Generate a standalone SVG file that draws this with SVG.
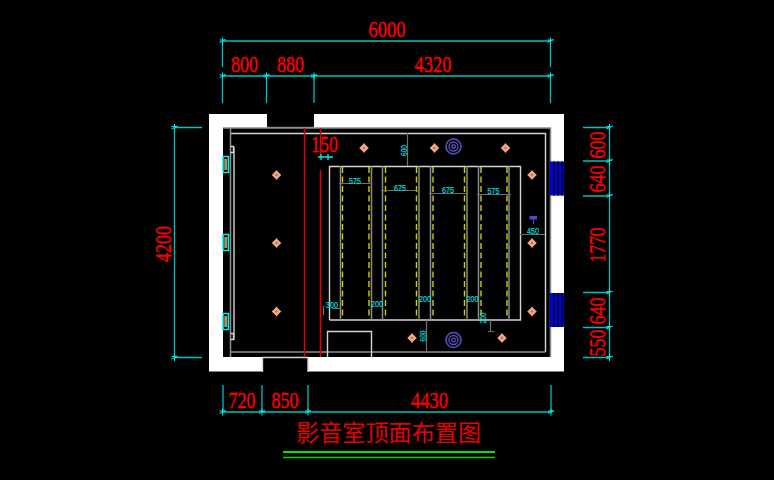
<svg xmlns="http://www.w3.org/2000/svg" width="774" height="480" viewBox="0 0 774 480">
<style>
.dim{stroke:#00c0c0;stroke-width:1.300;fill:none}
.tick{stroke:#00e8e8;stroke-width:1.300;fill:none}
.w{stroke:#d4d4d4;stroke-width:1.400;fill:none}
.g{stroke:#8c8c8c;stroke-width:1.500;fill:none}
.d{stroke:#707070;stroke-width:1.200;fill:none}
.y{stroke:#d0d000;stroke-width:1.400;fill:none;stroke-dasharray:6 3.500}
.r{stroke:#e00000;stroke-width:1.500;fill:none}
.bl{fill:#0000e0}
.bk{fill:#000038}
.t{font-family:"Liberation Serif",serif;font-size:24px;fill:#ff0000;stroke:#ff0000;stroke-width:.35;text-anchor:middle}
.s{font-family:"Liberation Sans",sans-serif;font-size:9.500px;fill:#00e0e0;stroke:#00e0e0;stroke-width:.15;text-anchor:middle}
.cn{font-family:"Liberation Serif","Noto Sans CJK SC",serif;font-size:23px;fill:#e80000;text-anchor:middle}
</style>
<defs>
<g id="lamp"><path d="M0-5 1.800-2.800 4.800 0 1.800 2.800 0 5-1.800 2.800-4.800 0-1.800-2.800Z" fill="#f4a888"/><circle r="3" fill="#f4a888"/><circle r="1.200" fill="#c07050"/></g>
<g id="spk" fill="none" stroke="#5850c0"><circle r="7.500" stroke-width="1.600"/><circle r="4.500" stroke-width="1.300"/><circle r="1.800" stroke-width="1.300"/></g>
<g id="sconce"><rect x="-2.500" y="-8" width="5.500" height="16" fill="none" stroke="#00f0f0" stroke-width="1.500"/><rect x="-1.200" y="-5.500" width="3" height="11" fill="#a89468"/></g>
<path id="tk" d="M-3 1.500 3-1.500M0-3.500V3.500M-3-1H3" stroke="#00e8e8" fill="none"/>
<g id="win"><rect class="bl" width="14" height="34"/><rect class="bk" x="3" width="2" height="34"/><rect class="bk" x="7" width="2" height="34"/><rect class="bk" x="11" width="2" height="34"/></g>
</defs>
<rect width="774" height="480" fill="#000"/>
<g id="walls">
<rect x="209" y="114" width="355" height="257.500" fill="#fff"/>
<rect x="223" y="128" width="327.500" height="229" fill="#000"/>
<rect x="267" y="114" width="47" height="14" fill="#000"/>
<rect x="262" y="357" width="46" height="15" fill="#000"/>
<path class="g" d="M223 128H550.500V357M267 127.500H314"/>
<path class="w" d="M262.500 372V357.500H308V372"/>
</g>
<g id="windows">
<use id="window-1" href="#win" x="550" y="161.500"/>
<use id="window-2" href="#win" x="550" y="293"/>
</g>
<g id="ceiling">
<path class="w" d="M230.500 133.500H545.500V352"/>
<path class="g" d="M230.500 128V357M230 352H545.500"/>
<path class="w" d="M234 147V340M230.500 146.500H233.500V152.500H230.500M230.500 333.500H233.500V339.500H230.500"/>
<path class="w" d="M329.500 320V166.500H520.500V320H329.500"/>
<path class="w" d="M327.500 357V331.500H371.500V357"/>
<path class="g" d="M340.500 166V320M371.500 166V320M382.500 166V320M419 166V320M430.500 166V320M467 166V320M478.500 166V320M509 166V320"/>
<path class="y" d="M342.500 167V320M369 167V320M385.500 167V320M416.500 167V320M433 167V320M464.500 167V320M481 167V320M507 167V320"/>
<path class="r" d="M304.500 128V357M320.500 128V157M320.500 170V357"/>
</g>
<g id="lamps">
<use href="#lamp" x="276.500" y="175"/><use href="#lamp" x="276.500" y="243"/><use href="#lamp" x="276.500" y="311.500"/>
<use href="#lamp" x="364" y="148"/><use href="#lamp" x="434.500" y="148"/><use href="#lamp" x="505.500" y="148"/>
<use href="#lamp" x="532" y="175"/><use href="#lamp" x="532" y="243"/><use href="#lamp" x="532" y="311.500"/>
<use href="#lamp" x="412" y="338"/><use href="#lamp" x="502" y="338"/>
</g>
<g id="speakers"><use href="#spk" x="453.500" y="146.500"/><use href="#spk" x="453.500" y="340"/></g>
<g id="sconces"><use href="#sconce" x="225.500" y="164.500"/><use href="#sconce" x="225.500" y="242.500"/><use href="#sconce" x="225.500" y="321.500"/></g>
<g id="projector"><path d="M529.500 216H537V219.500H534V224H533V219.500H529.500Z" fill="#5048d8"/></g>
<g id="inner-dims">
<path class="d" d="M339 183.500H372M381 190.500H420M429 193.500H468M477 194.500H511M520 234.500H545M407.500 133V166M426.500 320V352M490.500 320V331M488 331.500H494M332 308.500H340M323.500 306V315"/>
<text class="s" x="355" y="183.500" textLength="12" lengthAdjust="spacingAndGlyphs">575</text>
<text class="s" x="400" y="190.500" textLength="12" lengthAdjust="spacingAndGlyphs">675</text>
<text class="s" x="448" y="193" textLength="12" lengthAdjust="spacingAndGlyphs">675</text>
<text class="s" x="493.500" y="194" textLength="12" lengthAdjust="spacingAndGlyphs">575</text>
<text class="s" x="533" y="234" textLength="12" lengthAdjust="spacingAndGlyphs">450</text>
<text class="s" transform="translate(406.500 150.500) rotate(-90)" textLength="11" lengthAdjust="spacingAndGlyphs">600</text>
<text class="s" transform="translate(425.500 336) rotate(-90)" textLength="11" lengthAdjust="spacingAndGlyphs">600</text>
<text class="s" transform="translate(485.500 318) rotate(-90)" textLength="11" lengthAdjust="spacingAndGlyphs">200</text>
<text class="s" x="332" y="308" textLength="12" lengthAdjust="spacingAndGlyphs">300</text>
<text class="s" x="377" y="306.500" textLength="12" lengthAdjust="spacingAndGlyphs">200</text>
<text class="s" x="425" y="301.500" textLength="12" lengthAdjust="spacingAndGlyphs">200</text>
<text class="s" x="472.500" y="301.500" textLength="12" lengthAdjust="spacingAndGlyphs">200</text>
</g>
<g id="dim-connectors">
<path class="dim" d="M222.500 41H551M222.500 41V67M550.500 41V67M222.500 76H551M222.500 76V103M266.500 76V103M314 76V103M550.500 76V103"/>
<path class="dim" d="M222 412H552M223 385V412M262 385V412M308 385V412M551 385V412"/>
<path class="dim" d="M174.500 127.500V357.500M174.500 127.500H202M174.500 357.500H202"/>
<path class="dim" d="M609.500 127.500V357.500M583 127.500H610M583 161H610M583 196H610M583 292.500H610M583 327.500H610M583 357.500H610"/>
<path class="tick" d="M318 157H333M321 154V160M328 154V160"/>
<use href="#tk" x="222.500" y="41"/><use href="#tk" x="550.500" y="41"/>
<use href="#tk" x="222.500" y="76"/><use href="#tk" x="266.500" y="76"/><use href="#tk" x="314" y="76"/><use href="#tk" x="550.500" y="76"/>
<use href="#tk" x="222.500" y="412"/><use href="#tk" x="262" y="412"/><use href="#tk" x="308" y="412"/><use href="#tk" x="551" y="412"/>
<use href="#tk" x="174.500" y="127.500"/><use href="#tk" x="174.500" y="357.500"/>
<use href="#tk" x="609.500" y="127.500"/><use href="#tk" x="609.500" y="161"/><use href="#tk" x="609.500" y="196"/><use href="#tk" x="609.500" y="292.500"/><use href="#tk" x="609.500" y="327.500"/><use href="#tk" x="609.500" y="357.500"/>
</g>
<g id="dim-labels">
<text class="t" x="387" y="37" textLength="37" lengthAdjust="spacingAndGlyphs">6000</text>
<text class="t" x="244.500" y="72" textLength="27" lengthAdjust="spacingAndGlyphs">800</text>
<text class="t" x="290.500" y="72" textLength="27" lengthAdjust="spacingAndGlyphs">880</text>
<text class="t" x="433" y="72" textLength="37" lengthAdjust="spacingAndGlyphs">4320</text>
<text class="t" x="242" y="408" textLength="27" lengthAdjust="spacingAndGlyphs">720</text>
<text class="t" x="285" y="408" textLength="27" lengthAdjust="spacingAndGlyphs">850</text>
<text class="t" x="429.500" y="408" textLength="37" lengthAdjust="spacingAndGlyphs">4430</text>
<text class="t" x="324.500" y="152" textLength="27" lengthAdjust="spacingAndGlyphs">150</text>
<text class="t" transform="translate(170.500 244) rotate(-90)" textLength="36" lengthAdjust="spacingAndGlyphs">4200</text>
<text class="t" transform="translate(605 145) rotate(-90)" textLength="27" lengthAdjust="spacingAndGlyphs">600</text>
<text class="t" transform="translate(605 179) rotate(-90)" textLength="27" lengthAdjust="spacingAndGlyphs">640</text>
<text class="t" transform="translate(605 245) rotate(-90)" textLength="35" lengthAdjust="spacingAndGlyphs">1770</text>
<text class="t" transform="translate(605 311) rotate(-90)" textLength="27" lengthAdjust="spacingAndGlyphs">640</text>
<text class="t" transform="translate(605 343) rotate(-90)" textLength="27" lengthAdjust="spacingAndGlyphs">550</text>
</g>
<g id="title">
<text class="cn" x="388.500" y="441" textLength="185">影音室顶面布置图</text>
<path d="M283 452H495" stroke="#00e800" stroke-width="2.200"/>
<path d="M283 457.500H495" stroke="#00d800" stroke-width="1.300"/>
</g>
</svg>
